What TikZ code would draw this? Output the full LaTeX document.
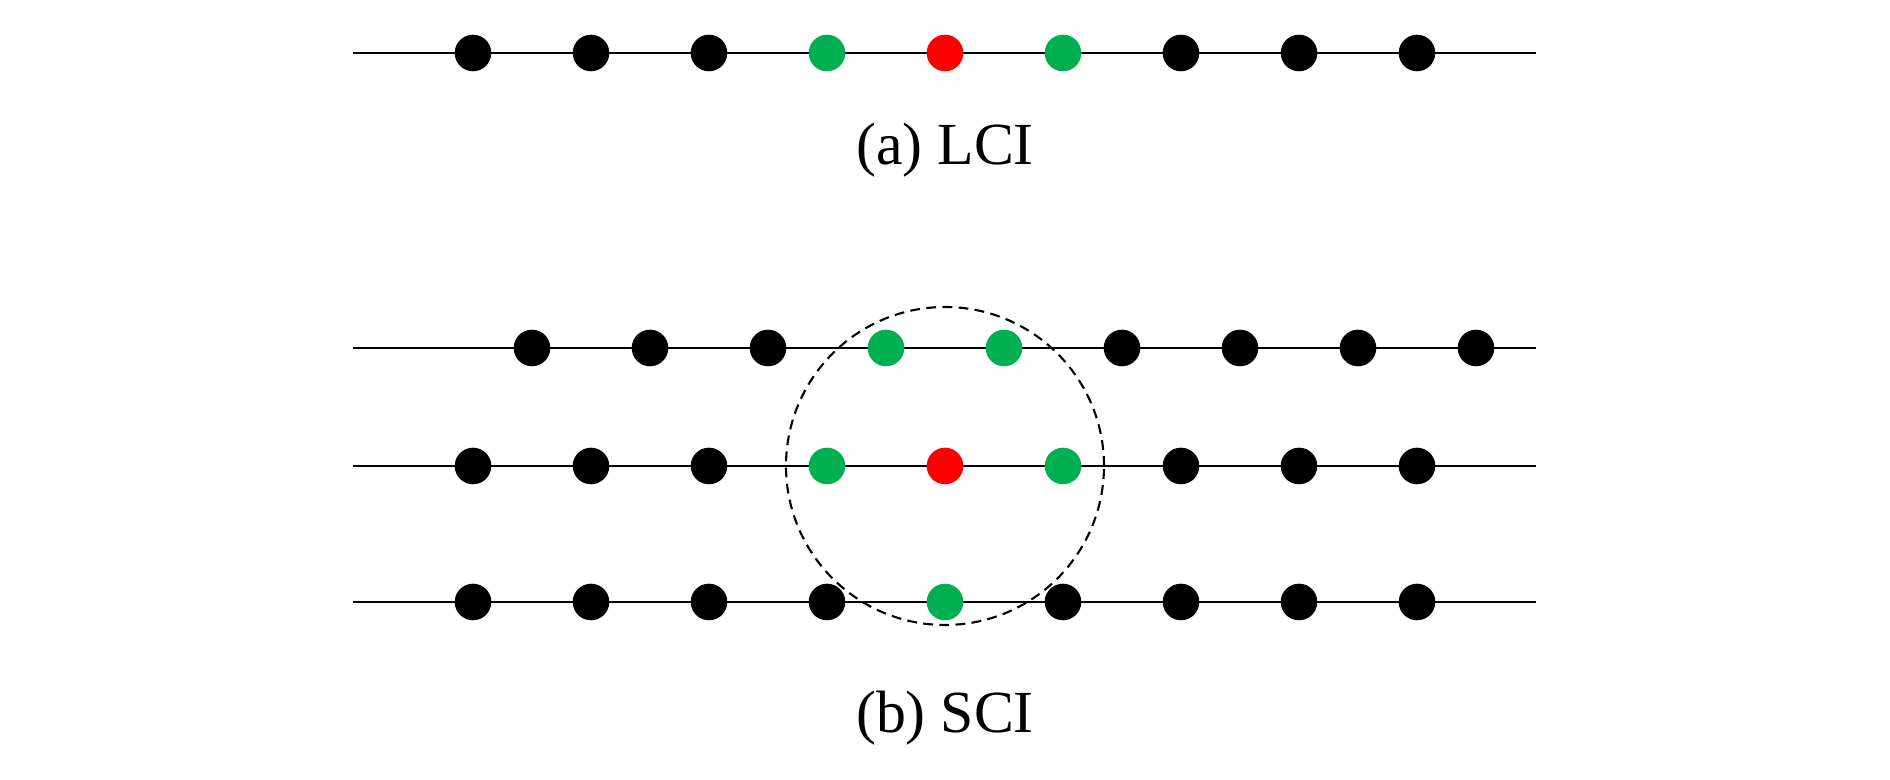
\documentclass[tikz,border=0pt]{standalone}
\usepackage{fontspec}
\setmainfont{Liberation Serif}
\definecolor{ptgreen}{HTML}{00B050}
\tikzset{
  dot/.style={circle,fill=#1,inner sep=0pt,minimum size=3.66mm},
  rowline/.style={line width=0.6pt},
  caption/.style={anchor=base,font=\fontsize{17}{20}\selectfont}
}
\begin{document}
\begin{tikzpicture}
  \useasboundingbox (0,0) rectangle (18.9,7.8);
  % (a) LCI: one row
  \coordinate (al) at (3.53,7.27); \coordinate (ar) at (15.36,7.27);
  \draw[rowline] (al) -- (ar);
  \foreach \i/\c in {1/black,2/black,3/black,4/ptgreen,5/red,6/ptgreen,7/black,8/black,9/black}
    \node[dot=\c] (a\i) at ({3.55+1.18*\i},7.27) {};
  \node[caption] (capa) at (9.45,6.15) {(a) LCI};
  % (b) SCI: three rows
  \coordinate (bl) at (3.53,4.32); \coordinate (br) at (15.36,4.32);
  \coordinate (cl) at (3.53,3.14); \coordinate (cr) at (15.36,3.14);
  \coordinate (dl) at (3.53,1.78); \coordinate (dr) at (15.36,1.78);
  \draw[rowline] (bl) -- (br);
  \draw[rowline] (cl) -- (cr);
  \draw[rowline] (dl) -- (dr);
  \foreach \i/\c in {1/black,2/black,3/black,4/ptgreen,5/ptgreen,6/black,7/black,8/black,9/black}
    \node[dot=\c] (b\i) at ({4.14+1.18*\i},4.32) {};% shifted by half a step
  \foreach \i/\c in {1/black,2/black,3/black,4/ptgreen,5/red,6/ptgreen,7/black,8/black,9/black}
    \node[dot=\c] (c\i) at ({3.55+1.18*\i},3.14) {};
  \foreach \i/\c in {1/black,2/black,3/black,4/black,5/ptgreen,6/black,7/black,8/black,9/black}
    \node[dot=\c] (d\i) at ({3.55+1.18*\i},1.78) {};
  \node[draw,circle,dashed,rowline,dash pattern=on 2.8pt off 1.8pt,inner sep=0pt,minimum size=3.18cm] (zone) at (c5) {};
  \node[caption] (capb) at (9.45,0.47) {(b) SCI};
\end{tikzpicture}
\end{document}
